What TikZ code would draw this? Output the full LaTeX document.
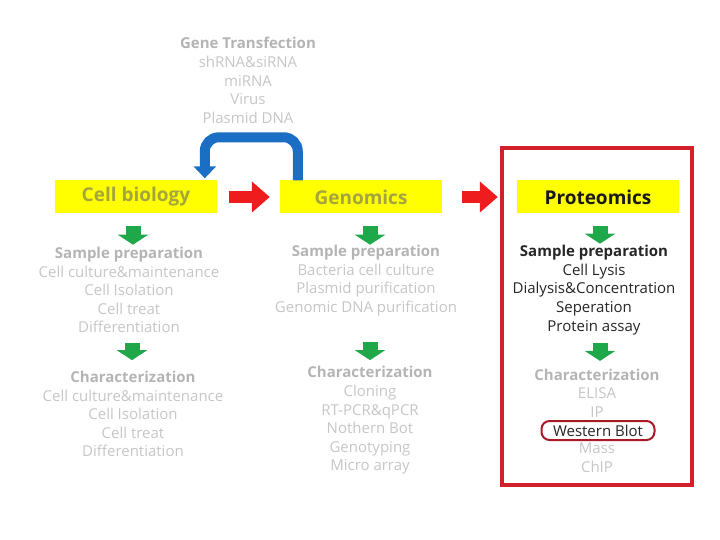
\documentclass[tikz,border=0pt]{standalone}
\usepackage{fontspec}
\setmainfont{Open Sans}
\usetikzlibrary{arrows.meta,positioning}
\definecolor{boxyellow}{HTML}{FFFF00}
\definecolor{boxtext}{HTML}{A5A540}
\definecolor{lightgrey}{HTML}{C6C6C6}
\definecolor{headgrey}{HTML}{B4B4B4}
\definecolor{arrowred}{HTML}{EE1C1C}
\definecolor{arrowgreen}{HTML}{1FA84A}
\definecolor{arrowblue}{HTML}{1A6FC4}
\definecolor{framered}{HTML}{D0202A}
\definecolor{blotred}{HTML}{A81A28}

\begin{document}
\begin{tikzpicture}[x=1pt,y=-1pt,
    stage/.style={fill=boxyellow, minimum width=162pt, minimum height=33pt,
      font=\fontsize{19}{22}\selectfont\bfseries, text=boxtext},
    steps/.style={align=center, inner sep=0pt, text=lightgrey,
      font=\fontsize{15}{18.6}\selectfont},
    redarr/.style={draw=arrowred, line width=12pt, -{Triangle[length=18pt,width=30pt]}},
    greenarr/.style={draw=arrowgreen, line width=15pt, -{Triangle[length=10pt,width=30pt]}},
    bluearr/.style={draw=arrowblue, line width=10pt, rounded corners=14pt,
      -{Triangle[length=12pt,width=22pt]}}]
    \useasboundingbox (0,0) rectangle (720,540);

    % Gene transfection (top)
    \node[steps] (gene) at (248,80.5) {\textcolor{headgrey}{\bfseries Gene Transfection}\\
      shRNA\&siRNA\\miRNA\\Virus\\Plasmid DNA};

    % Three stages
    \node[stage] (cellbio) at (136,197) {Cell biology};
    \node[stage] (genomics) at (361,197) {Genomics};
    \node[stage, text=black!90] (proteomics) at (598,197) {Proteomics};

    \draw[redarr] ([xshift=12pt]cellbio.east) -- ([xshift=-10pt]genomics.west);
    \draw[redarr] ([xshift=20pt]genomics.east) -- ([xshift=-19pt]proteomics.west);
    \draw[bluearr] ([xshift=18pt]genomics.north west) -- ++(0,-43)
      -| ([xshift=150pt,yshift=2pt]cellbio.north west);

    % Cell biology column
    \node[steps] (cprep) at (129,290) {\textcolor{headgrey}{\bfseries Sample preparation}\\
      Cell culture\&maintenance\\Cell Isolation\\Cell treat\\Differentiation};
    \node[steps] (cchar) at (133,414) {\textcolor{headgrey}{\bfseries Characterization}\\
      Cell culture\&maintenance\\Cell Isolation\\Cell treat\\Differentiation};

    % Genomics column
    \node[steps] (gprep) at (366,280.5) {\textcolor{headgrey}{\bfseries Sample preparation}\\
      Bacteria cell culture\\Plasmid purification\\Genomic DNA purification};
    \node[steps] (gchar) at (370,420.5) {\textcolor{headgrey}{\bfseries Characterization}\\
      Cloning\\RT-PCR\&qPCR\\Nothern Bot\\Genotyping\\Micro array};

    % Proteomics column
    \node[steps, text=black!85] (pprep) at (594,290) {{\bfseries Sample preparation}\\
      Cell Lysis\\Dialysis\&Concentration\\Seperation\\Protein assay};
    \node[steps] (pchar) at (597,393) {\textcolor{headgrey}{\bfseries Characterization}\\
      ELISA\\IP};
    \node[steps, text=black!85, draw=blotred, line width=2pt, rounded corners=8pt,
      minimum width=113pt, minimum height=19pt] (wblot) at (598,430.5) {Western Blot};
    \node[steps] (pmore) at (597,458) {Mass\\ChIP};

    % Green arrows
    \draw[greenarr] (cellbio.south) ++(-3,12) -- ++(0,19);
    \draw[greenarr] (genomics.south) ++(9,12) -- ++(0,19);
    \draw[greenarr] (proteomics.south) ++(2,12) -- ++(0,18);
    \draw[greenarr] (cprep.south) ++(3,10) -- ++(0,17);
    \draw[greenarr] (gprep.south) ++(4,26) -- ++(0,18);
    \draw[greenarr] (pprep.south) ++(6,8) -- ++(0,18);

    % Frame round the proteomics column
    \draw[framered, line width=3.5pt] (502,148) rectangle (692,485);
\end{tikzpicture}
\end{document}
